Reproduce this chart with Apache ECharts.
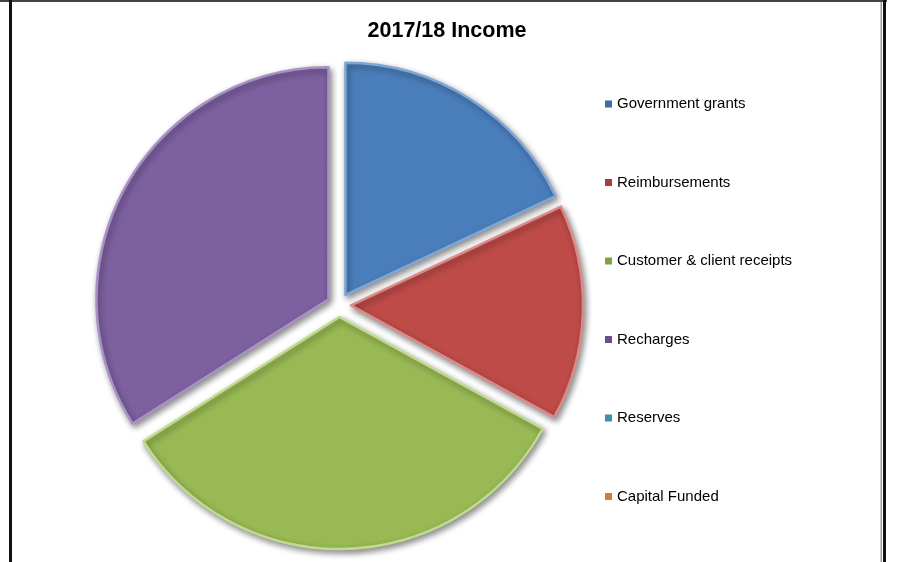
<!DOCTYPE html>
<html>
<head>
<meta charset="utf-8">
<script src="https://cdn.jsdelivr.net/npm/echarts@6/dist/echarts.min.js"></script>
<style>
  html, body { margin: 0; padding: 0; background: #fff; }
  #chart { width: 900px; height: 562px; }
</style>
</head>
<body>
<div id="chart"></div>
<script>
// Income sources for the year (share of total, %)
const categories = ['Government grants', 'Reimbursements', 'Customer & client receipts', 'Recharges', 'Reserves', 'Capital Funded'];
const values = [18, 15, 33, 34, 0, 0];
const baseColors = ['#4A7EBB', '#BE4B48', '#98B954', '#7D60A0', '#46AAC5', '#F69240'];
const rimColors = ['#7FA6D6', '#DB8A88', '#C2DA8E', '#A891C5', '#8ACCDD', '#F9BC8A'];
const keyColors = ['#3D6DA5', '#A53E3C', '#7FA043', '#6A4F8C', '#3992AA', '#D77B33'];
const titleText = '2017/18 Income';

const chart = echarts.init(document.getElementById('chart'), null, { renderer: 'canvas' });

const pieData = categories.map((name, i) => {
  const empty = values[i] === 0;
  const style = {
    color: baseColors[i],
    borderColor: empty ? 'transparent' : rimColors[i],
    borderWidth: empty ? 0 : 2.5,
    shadowBlur: empty ? 0 : 6,
    shadowOffsetX: 2,
    shadowOffsetY: 3,
    shadowColor: 'rgba(0,0,0,0.45)'
  };
  return {
    name,
    value: values[i],
    selected: !empty,
    itemStyle: style,
    select: { itemStyle: style }
  };
});

chart.setOption({
  backgroundColor: '#ffffff',
  animation: false,
  title: {
    text: titleText,
    left: 442,
    textAlign: 'center',
    top: 15,
    textStyle: { fontFamily: 'Liberation Sans', fontWeight: 'bold', fontSize: 21.5, color: '#000' }
  },
  legend: {
    orient: 'vertical',
    left: 600,
    top: 91,
    icon: 'rect',
    itemWidth: 7,
    itemHeight: 7,
    itemGap: 62.5,
    selectedMode: false,
    data: categories.map((name, i) => ({
      name,
      itemStyle: { color: keyColors[i], borderWidth: 0, shadowBlur: 0, shadowOffsetX: 0, shadowOffsetY: 0 }
    })),
    textStyle: { fontFamily: 'Liberation Sans', fontSize: 15, color: '#000', lineHeight: 16 }
  },
  series: [{
    type: 'pie',
    center: [339, 305],
    radius: [0, 232],
    startAngle: 90,
    clockwise: true,
    selectedMode: 'multiple',
    selectedOffset: 12,
    avoidLabelOverlap: false,
    label: { show: false },
    labelLine: { show: false },
    emphasis: { disabled: true, scale: false },
    data: pieData
  }],
  graphic: [
    { type: 'rect', shape: { x: 0, y: 0, width: 887, height: 2 }, style: { fill: '#444' }, silent: true },
    { type: 'rect', shape: { x: 9, y: 0, width: 3, height: 562 }, style: { fill: '#111' }, silent: true },
    { type: 'rect', shape: { x: 880.5, y: 2, width: 1.5, height: 560 }, style: { fill: '#999' }, silent: true },
    { type: 'rect', shape: { x: 883, y: 0, width: 3, height: 562 }, style: { fill: '#111' }, silent: true }
  ]
});
</script>
</body>
</html>
